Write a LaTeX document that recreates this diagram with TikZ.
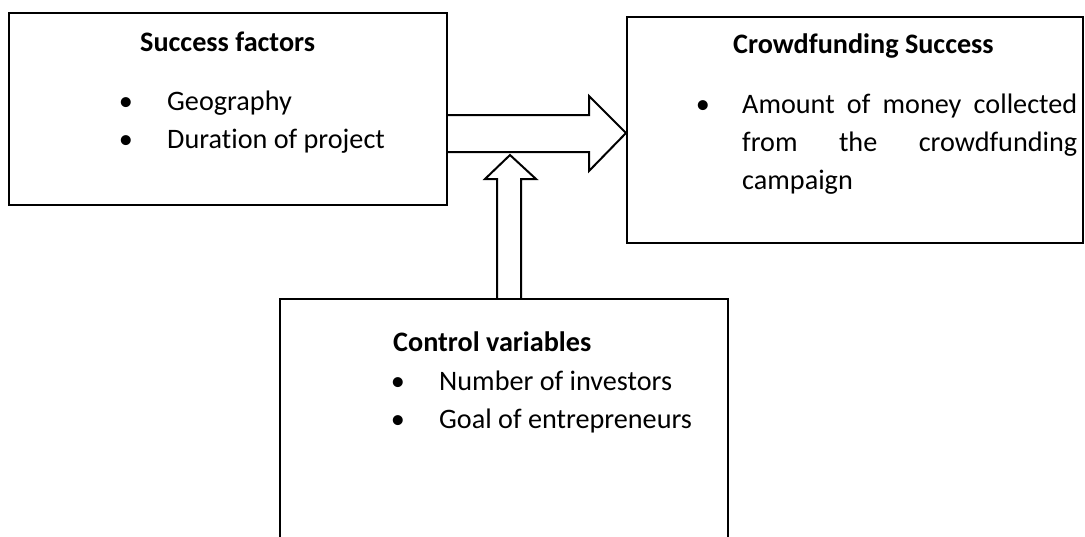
\documentclass[tikz,border=0pt]{standalone}
\usepackage{fontspec}
\setmainfont{Carlito}[Ligatures=NoCommon]
\begin{document}
\begin{tikzpicture}[x=1pt,y=-1pt,
  box/.style={draw, line width=2pt, rectangle, inner sep=0pt},
  txt/.style={anchor=base west, inner sep=0pt, font=\fontsize{28.2}{34}\selectfont},
  ttl/.style={anchor=base west, inner sep=0pt, font=\fontsize{28.2}{34}\selectfont\bfseries},
  bul/.style={anchor=base, inner sep=0pt, font=\fontsize{28.2}{34}\selectfont},
  blockarrow/.style={draw, line width=2pt, line join=miter}]
\useasboundingbox (0,0) rectangle (1085,536);
\clip (0,0) rectangle (1085,536);
\fill[white] (0,0) rectangle (1085,536);

% the three boxes
\node[box, minimum width=438pt, minimum height=192pt] (sf) at (228,109) {};
\node[box, minimum width=456pt, minimum height=226pt] (cs) at (855,130) {};
\node[box, minimum width=448pt, minimum height=300pt] (cv) at (504,449) {};

% success factors
\node[ttl] (sft) at (140,51) {Success factors};
\node[bul] (sb1) at (126,110) {\textbullet};
\node[txt] (sg) at (167,110) {Geography};
\node[bul] (sb2) at (126,148) {\textbullet};
\node[txt] (sd) at (167,148) {Duration of project};

% crowdfunding success
\node[ttl] (cst) at (733,53) {Crowdfunding Success};
\node[bul] (cb1) at (703,113) {\textbullet};
\node[txt] (cl1) at (742,113) {\makebox[335pt][s]{Amount of money collected}};
\node[txt] (cl2) at (742,151) {\makebox[335pt][s]{from the crowdfunding}};
\node[txt] (cl3) at (742,189) {campaign};

% control variables
\node[ttl] (cvt) at (393,351) {Control variables};
\node[bul] (vb1) at (398,390) {\textbullet};
\node[txt] (vn) at (439,390) {Number of investors};
\node[bul] (vb2) at (398,428) {\textbullet};
\node[txt] (vg) at (439,428) {Goal of entrepreneurs};

% block arrow: success factors -> crowdfunding success
\draw[blockarrow] (sf.east |- 0,115) -- (589,115) -- (589,96) -- (cs.west |- 0,133)
  -- (589,171) -- (589,152) -- (sf.east |- 0,152);
% block arrow: control variables -> main arrow
\draw[blockarrow] (cv.north -| 497,0) -- (497,179) -- (485,179) -- (510,155)
  -- (536,179) -- (521,179) -- (cv.north -| 521,0);
\end{tikzpicture}
\end{document}
